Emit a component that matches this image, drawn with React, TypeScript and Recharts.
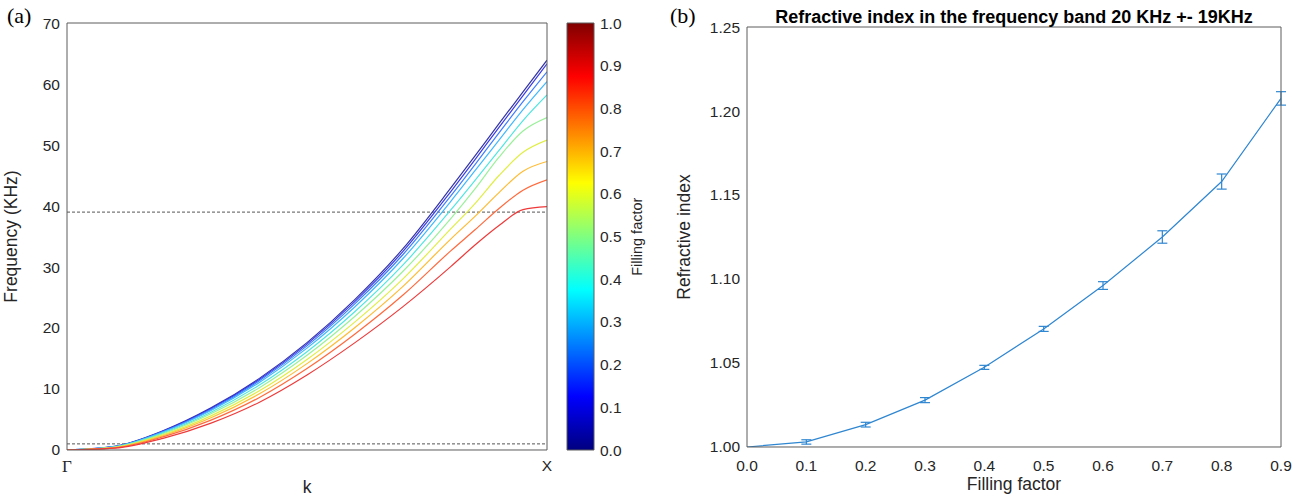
import React from 'react';
import { LineChart, Line, XAxis, YAxis, ReferenceLine, ErrorBar, BarChart, Bar } from 'recharts';

// ---------- Panel (a): dispersion curves ----------
const kValues = [0, 0.1, 0.2, 0.3, 0.4, 0.5, 0.6, 0.7, 0.8, 0.85, 0.9, 0.95, 1.0];
const kTickValues = [0, 1];
const kTickLabels = ['Γ', 'X'];
const freqTicks = [0, 10, 20, 30, 40, 50, 60, 70];
const bandEdges = [1, 39];
const fillingFactors = [0.0, 0.1, 0.2, 0.3, 0.4, 0.5, 0.6, 0.7, 0.8, 0.9];

const freqFF00 = [0, 0.6, 3.15, 6.9, 11.7, 17.6, 24.7, 33.0, 43.0, 48.2, 53.5, 58.7, 63.9];
const freqFF01 = [0, 0.59, 3.09, 6.79, 11.52, 17.36, 24.37, 32.56, 42.41, 47.6, 52.9, 58.1, 63.3];
const freqFF02 = [0, 0.57, 3.03, 6.65, 11.31, 17.07, 23.99, 32.05, 41.71, 46.8, 52.0, 57.1, 62.0];
const freqFF03 = [0, 0.55, 2.94, 6.48, 11.04, 16.7, 23.49, 31.39, 40.81, 45.8, 50.8, 55.8, 60.4];
const freqFF04 = [0, 0.52, 2.8, 6.2, 10.61, 16.12, 22.71, 30.34, 39.39, 44.2, 49.1, 54.0, 58.2];
const freqFF05 = [0, 0.48, 2.66, 5.93, 10.18, 15.53, 21.93, 29.3, 37.97, 42.8, 48.0, 52.3, 54.5];
const freqFF06 = [0, 0.44, 2.5, 5.6, 9.67, 14.84, 21.01, 28.06, 36.29, 40.4, 45.0, 48.8, 50.8];
const freqFF07 = [0, 0.4, 2.34, 5.28, 9.17, 14.16, 20.09, 26.83, 34.62, 38.3, 42.2, 45.7, 47.3];
const freqFF08 = [0, 0.36, 2.15, 4.9, 8.58, 13.36, 19.02, 25.4, 32.68, 36.1, 39.6, 42.6, 44.3];
const freqFF09 = [0, 0.3, 1.9, 4.4, 7.8, 12.3, 17.6, 23.5, 30.1, 33.6, 36.8, 39.4, 39.9];
const dispersionCurves = [freqFF00, freqFF01, freqFF02, freqFF03, freqFF04, freqFF05, freqFF06, freqFF07, freqFF08, freqFF09];

// colorbar
const colorbarTicks = [0, 0.1, 0.2, 0.3, 0.4, 0.5, 0.6, 0.7, 0.8, 0.9, 1.0];
const colorbarRange = [{ name: 'cb', value: 1 }];

// ---------- Panel (b): refractive index ----------
const ffValues = [0, 0.1, 0.2, 0.3, 0.4, 0.5, 0.6, 0.7, 0.8, 0.9];
const refractiveIndex = [1.0, 1.003, 1.0133, 1.0279, 1.0474, 1.0703, 1.0961, 1.125, 1.158, 1.2075];
const refractiveErr = [0, 0.0013, 0.0014, 0.0015, 0.0012, 0.0015, 0.0023, 0.0037, 0.0045, 0.004];
const ffTicks = [0, 0.1, 0.2, 0.3, 0.4, 0.5, 0.6, 0.7, 0.8, 0.9];
const nTicks = [1.0, 1.05, 1.1, 1.15, 1.2, 1.25];

// ---------- styles ----------
const W = 1307;
const H = 498;
const AX = 0.01; // near-zero axis box size so the plot area equals the margin box
const SANS = '"Liberation Sans", Arial, Helvetica, sans-serif';
const SERIF = '"Liberation Serif", "Times New Roman", serif';
const FRAME = '#5c5c5c';
const TXT = '#262626';
const lineColors = ['#3434a8', '#3a3ae6', '#3f7dff', '#40b8ff', '#4fe6e0', '#9af09a', '#e0ee44', '#ffbb33', '#ff6a3d', '#ee3a3a'];
const errColor = '#2f86d1';
const tickFont = { fontFamily: SANS, fontSize: 15.5, fill: TXT };

const dispersionData = kValues.map((k, i) => {
  const row: Record<string, number> = { k };
  dispersionCurves.forEach((c, j) => {
    row['f' + j] = c[i];
  });
  return row;
});

const refractiveData = ffValues.map((ff, i) => ({ ff, n: refractiveIndex[i], err: refractiveErr[i] }));

const KTick = (props: any) => {
  const { x, y, payload } = props;
  const idx = kTickValues.indexOf(payload.value);
  const isGamma = idx === 0;
  return (
    <text
      x={x}
      y={y}
      dy="0.71em"
      textAnchor="middle"
      fontFamily={isGamma ? SERIF : SANS}
      fontSize={isGamma ? 17 : 15.5}
      fill={TXT}
    >
      {kTickLabels[idx]}
    </text>
  );
};

export default function App() {
  return (
    <div style={{ position: 'relative', width: W, height: H, background: '#fff' }}>
      <style>{'body{margin:0;}'}</style>

      {/* Panel (a) */}
      <div style={{ position: 'absolute', left: 0, top: 0 }}>
        <LineChart width={W} height={H} data={dispersionData} margin={{ top: 23, left: 67, right: W - 547, bottom: H - 450 }}>
          <XAxis xAxisId="b" dataKey="k" type="number" domain={[0, 1]} ticks={kTickValues} height={AX}
            tickLine={false} tickSize={0} tickMargin={10} tick={<KTick />} axisLine={{ stroke: FRAME }} allowDataOverflow />
          <XAxis xAxisId="t" orientation="top" type="number" domain={[0, 1]} ticks={kTickValues} height={AX}
            tick={false} tickLine={false} axisLine={{ stroke: FRAME }} allowDataOverflow />
          <YAxis yAxisId="l" type="number" domain={[0, 70]} ticks={freqTicks} width={AX}
            tickLine={false} tickSize={0} tickMargin={7} tick={tickFont} axisLine={{ stroke: FRAME }} allowDataOverflow />
          <YAxis yAxisId="l2" type="number" domain={[0, 70]} ticks={freqTicks.slice(1, -1)} width={AX} mirror
            tick={false} tickSize={4} tickLine={{ stroke: FRAME }} axisLine={false} allowDataOverflow />
          <YAxis yAxisId="r" orientation="right" type="number" domain={[0, 70]} ticks={freqTicks.slice(1, -1)} width={AX} mirror
            tick={false} tickSize={4} tickLine={{ stroke: FRAME }} axisLine={{ stroke: FRAME }} allowDataOverflow />
          {bandEdges.map((b) => (
            <ReferenceLine key={b} xAxisId="b" yAxisId="l" y={b} stroke="#555" strokeDasharray="3 2" strokeWidth={1} />
          ))}
          {fillingFactors.map((ff, j) => (
            <Line key={ff} xAxisId="b" yAxisId="l" dataKey={'f' + j} type="monotone" stroke={lineColors[j]}
              strokeWidth={1.2} dot={false} isAnimationActive={false} />
          ))}
        </LineChart>
      </div>

      {/* Colorbar */}
      <div style={{ position: 'absolute', left: 0, top: 0 }}>
        <BarChart width={W} height={H} data={colorbarRange} barCategoryGap={0} margin={{ top: 23, left: 567, right: W - 594, bottom: H - 450 }}>
          <defs>
            <linearGradient id="jet" x1="0" y1="1" x2="0" y2="0">
              <stop offset="0" stopColor="#000080" />
              <stop offset="0.125" stopColor="#0000ff" />
              <stop offset="0.375" stopColor="#00ffff" />
              <stop offset="0.625" stopColor="#ffff00" />
              <stop offset="0.875" stopColor="#ff0000" />
              <stop offset="1" stopColor="#800000" />
            </linearGradient>
          </defs>
          <XAxis dataKey="name" hide height={0} />
          <YAxis yAxisId="cb" orientation="right" type="number" domain={[0, 1]} ticks={colorbarTicks} width={AX}
            tickLine={false} tickSize={0} tickMargin={6} tick={tickFont} axisLine={false}
            tickFormatter={(v: number) => v.toFixed(1)} />
          <YAxis yAxisId="cb2" orientation="right" type="number" domain={[0, 1]} ticks={colorbarTicks.slice(1, -1)} width={AX} mirror
            tick={false} tickSize={3} tickLine={{ stroke: FRAME }} axisLine={false} />
          <Bar yAxisId="cb" dataKey="value" fill="url(#jet)" stroke={FRAME} strokeWidth={1} isAnimationActive={false} />
        </BarChart>
      </div>

      {/* Panel (b) */}
      <div style={{ position: 'absolute', left: 0, top: 0 }}>
        <LineChart width={W} height={H} data={refractiveData} margin={{ top: 27, left: 747, right: W - 1281, bottom: H - 447 }}>
          <XAxis xAxisId="b" dataKey="ff" type="number" domain={[0, 0.9]} ticks={ffTicks} height={AX}
            tickLine={false} tickSize={0} tickMargin={13} tick={tickFont} axisLine={{ stroke: FRAME }}
            tickFormatter={(v: number) => v.toFixed(1)} allowDataOverflow />
          <XAxis xAxisId="b2" type="number" domain={[0, 0.9]} ticks={ffTicks.slice(1, -1)} height={AX} mirror
            tick={false} tickSize={4} tickLine={{ stroke: FRAME }} axisLine={false} allowDataOverflow />
          <XAxis xAxisId="t" orientation="top" type="number" domain={[0, 0.9]} ticks={ffTicks.slice(1, -1)} height={AX} mirror
            tick={false} tickSize={4} tickLine={{ stroke: FRAME }} axisLine={{ stroke: FRAME }} allowDataOverflow />
          <YAxis yAxisId="l" type="number" domain={[1.0, 1.25]} ticks={nTicks} width={AX}
            tickLine={false} tickSize={0} tickMargin={7} tick={tickFont} axisLine={{ stroke: FRAME }}
            tickFormatter={(v: number) => v.toFixed(2)} allowDataOverflow />
          <YAxis yAxisId="l2" type="number" domain={[1.0, 1.25]} ticks={nTicks.slice(1, -1)} width={AX} mirror
            tick={false} tickSize={4} tickLine={{ stroke: FRAME }} axisLine={false} allowDataOverflow />
          <YAxis yAxisId="r" orientation="right" type="number" domain={[1.0, 1.25]} ticks={nTicks.slice(1, -1)} width={AX} mirror
            tick={false} tickSize={4} tickLine={{ stroke: FRAME }} axisLine={{ stroke: FRAME }} allowDataOverflow />
          <Line xAxisId="b" yAxisId="l" dataKey="n" type="linear" stroke={errColor} strokeWidth={1.2} dot={false} isAnimationActive={false}>
            <ErrorBar dataKey="err" direction="y" width={5} stroke={errColor} strokeWidth={1.2} />
          </Line>
        </LineChart>
      </div>

      {/* Titles and axis labels */}
      <svg width={W} height={H} style={{ position: 'absolute', left: 0, top: 0, pointerEvents: 'none' }}>
        <text x={7} y={23} fontFamily={SERIF} fontSize={22} fill="#000">(a)</text>
        <text x={670} y={23} fontFamily={SERIF} fontSize={22} fill="#000">(b)</text>
        <text transform="translate(17,236.5) rotate(-90)" textAnchor="middle" fontFamily={SANS} fontSize={17.5} fill={TXT}>Frequency (KHz)</text>
        <text x={307} y={493} textAnchor="middle" fontFamily={SANS} fontSize={17.5} fill={TXT}>k</text>
        <text transform="translate(642,236.7) rotate(-90)" textAnchor="middle" fontFamily={SANS} fontSize={14.5} fill={TXT}>Filling factor</text>
        <text x={1014} y={22.5} textAnchor="middle" fontFamily={SANS} fontSize={18} fontWeight="bold" fill="#000">Refractive index in the frequency band 20 KHz +- 19KHz</text>
        <text transform="translate(690,237) rotate(-90)" textAnchor="middle" fontFamily={SANS} fontSize={17.5} fill={TXT}>Refractive index</text>
        <text x={1014} y={490} textAnchor="middle" fontFamily={SANS} fontSize={17.5} fill={TXT}>Filling factor</text>
      </svg>
    </div>
  );
}
